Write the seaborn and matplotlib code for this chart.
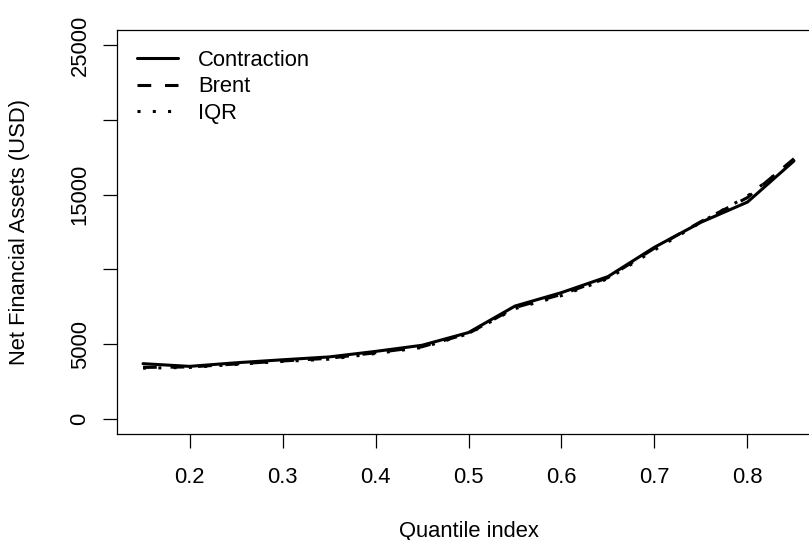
import numpy as np
import pandas as pd
import matplotlib
matplotlib.use("Agg")
import matplotlib.pyplot as plt
import seaborn as sns

# quantile grid and estimated net financial assets per method
quantiles = [0.15, 0.20, 0.25, 0.30, 0.35, 0.40, 0.45, 0.50,
             0.55, 0.60, 0.65, 0.70, 0.75, 0.80, 0.85]
contraction = [3700, 3520, 3760, 3960, 4150, 4520, 4930, 5780,
               7550, 8450, 9520, 11480, 13150, 14500, 17250]
brent = [3450, 3480, 3680, 3880, 4060, 4430, 4830, 5720,
         7450, 8330, 9450, 11420, 13200, 14800, 17400]
iqr = [3400, 3450, 3650, 3850, 4000, 4380, 4780, 5700,
       7380, 8250, 9380, 11300, 13150, 14900, 17300]

x_ticks = [0.2, 0.3, 0.4, 0.5, 0.6, 0.7, 0.8]
y_ticks = [0, 5000, 10000, 15000, 20000, 25000]
y_tick_labels = ["0", "5000", "", "15000", "", "25000"]

sns.set_style("ticks")
plt.rcParams['font.family'] = ['Liberation Sans', 'DejaVu Sans']
plt.rcParams['text.color'] = 'black'
plt.rcParams['axes.labelcolor'] = 'black'
plt.rcParams['xtick.color'] = 'black'
plt.rcParams['ytick.color'] = 'black'
fs = 15.8

data = pd.DataFrame({"q": quantiles, "Contraction": contraction,
                     "Brent": brent, "IQR": iqr})

fig = plt.figure(figsize=(8.09, 5.40), dpi=100)
W, H = 809, 540
left, right, top, bottom = 117, 820, 30, 434
ax = fig.add_axes([left / W, 1 - bottom / H, (right - left) / W, (bottom - top) / H])

lw = 2.2
sns.lineplot(data=data, x="q", y="Contraction", ax=ax, color="black",
             linewidth=lw, label="Contraction")
sns.lineplot(data=data, x="q", y="Brent", ax=ax, color="black",
             linewidth=lw, dashes=(4.5, 4.5), label="Brent")
sns.lineplot(data=data, x="q", y="IQR", ax=ax, color="black",
             linewidth=lw, dashes=(1, 4), label="IQR")
for ln in ax.get_lines():
    ln.set_dash_capstyle("butt")

ax.set_xlim(0.122, 0.878)
ax.set_ylim(-1000, 26000)
ax.set_xticks(x_ticks)
ax.set_xticklabels([str(v) for v in x_ticks], fontsize=fs)
ax.set_yticks(y_ticks)
ax.set_yticklabels(y_tick_labels, fontsize=fs, rotation=90, va="center")
ax.tick_params(axis="both", length=10, width=0.9, color="black",
               labelcolor="black", direction="out")
ax.tick_params(axis="x", pad=14)
ax.tick_params(axis="y", pad=9)

for side in ["left", "bottom", "top", "right"]:
    ax.spines[side].set_visible(True)
    ax.spines[side].set_color("black")
    ax.spines[side].set_linewidth(0.9)

ax.set_xlabel("Quantile index", fontsize=fs, color="black")
ax.set_ylabel("Net Financial Assets (USD)", fontsize=fs, color="black")
ax.xaxis.set_label_coords(0.5, -(531 - bottom) / (bottom - top))
ax.yaxis.set_label_coords(-(left - 20) / (right - left), 0.5)
ax.xaxis.label.set_va("center")
ax.yaxis.label.set_va("center")

leg = ax.legend(loc="upper left", frameon=False, fontsize=fs,
                handlelength=1.9, handletextpad=0.9, labelspacing=0.25,
                borderaxespad=0.6, borderpad=0.3)
for t in leg.get_texts():
    t.set_color("black")
for h in leg.get_lines():
    h.set_dash_capstyle("butt")

fig.savefig("out.png", dpi=100)
